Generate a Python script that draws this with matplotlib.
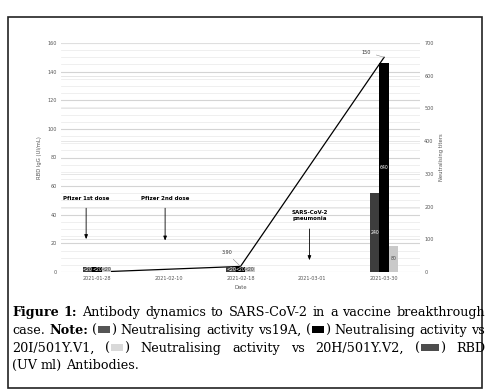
import numpy as np
import matplotlib
matplotlib.use("Agg")
import matplotlib.pyplot as plt
from matplotlib.ticker import MultipleLocator
from matplotlib.patches import Rectangle

# ---------------- data ----------------
dates = ['2021-01-28', '2021-02-10', '2021-02-18', '2021-03-01', '2021-03-30']
rbd_igg = [0.0, np.nan, 3.9, np.nan, 150.0]
rbd_labels = ['', '', '3.90', '', '150']
nt_19a = [15, np.nan, 15, np.nan, 240]
nt_v1 = [15, np.nan, 15, np.nan, 640]
nt_v2 = [15, np.nan, 15, np.nan, 80]
lab_19a = ['<20', '', '<20', '', '240']
lab_v1 = ['<20', '', '<20', '', '640']
lab_v2 = ['<20', '', '<20', '', '80']
events = ['Pfizer 1st dose', 'Pfizer 2nd dose', 'SARS-CoV-2\npneumonia']
event_idx = [0, 1, 3]

W, H = 493, 391
fig = plt.figure(figsize=(W / 100, H / 100), dpi=100)

def fx(px):
    return px / W

def fy(py):
    return 1 - py / H

ax = fig.add_axes([fx(61), fy(272), 359 / W, 229 / H])
ax2 = ax.twinx()

x = np.arange(len(dates))
ax.set_xlim(-0.5, len(dates) - 0.5)
ax.set_ylim(0, 160)
ax2.set_ylim(0, 700)

# grid
ax.yaxis.set_major_locator(MultipleLocator(20))
ax.yaxis.set_minor_locator(MultipleLocator(5))
ax.grid(axis='y', which='major', color='#d4d4d4', lw=0.8)
ax.grid(axis='y', which='minor', color='#ededed', lw=0.6)
ax2.yaxis.set_major_locator(MultipleLocator(100))
ax2.grid(axis='y', color='#e2e2e2', lw=0.6)
ax2.set_axisbelow(True)

for a in (ax, ax2):
    for s in a.spines.values():
        s.set_visible(False)
    a.tick_params(which='both', length=0, labelsize=3.5, labelcolor='#555555', pad=3)

ax.set_xticks(x)
ax.set_xticklabels(dates)
ax.set_xlabel('Date', fontsize=3.8, color='#555555', labelpad=3)
ax.set_ylabel('RBD IgG (UI/mL)', fontsize=3.8, color='#555555', labelpad=4)
ax2.set_ylabel('Neutralising titers', fontsize=3.8, color='#555555', labelpad=4)

# bars
bw = 0.13
colors = ['#3d3d3d', '#000000', '#c9c9c9']
series = [nt_19a, nt_v1, nt_v2]
labs = [lab_19a, lab_v1, lab_v2]
tcol = ['white', 'white', '#444444']
for k, (vals, lb, c, tc) in enumerate(zip(series, labs, colors, tcol)):
    xs = x + (k - 1) * bw
    ax2.bar(xs, vals, width=bw, color=c, zorder=3)
    for xi, v, l in zip(xs, vals, lb):
        if l and not np.isnan(v):
            ax2.text(xi, v / 2, l, ha='center', va='center', fontsize=3.3,
                     color=tc, zorder=4)

# line (drawn in the top axes, using left-axis data coordinates)
L = ax.transData
rv = np.array(rbd_igg)
m = ~np.isnan(rv)
ax2.plot(x[m], rv[m], color='black', lw=0.9, zorder=2.5, transform=L)
ax2.annotate(rbd_labels[2], xy=(x[2], rv[2]), xytext=(x[2] - 0.19, 13.3),
             xycoords=L, textcoords=L,
             fontsize=3.5, color='#333333', ha='center', va='center',
             arrowprops=dict(arrowstyle='-', color='#888888', lw=0.4, shrinkA=1, shrinkB=0))
ax2.annotate(rbd_labels[4], xy=(x[4], rv[4]), xytext=(x[4] - 0.25, 153.7),
             xycoords=L, textcoords=L,
             fontsize=3.5, color='#333333', ha='center', va='center',
             arrowprops=dict(arrowstyle='-', color='#888888', lw=0.4, shrinkA=2, shrinkB=0))

# event annotations
arr = dict(arrowstyle='-|>,head_length=0.25,head_width=0.1', color='black', lw=0.6)
ev_x = [x[event_idx[0]] - 0.15, x[event_idx[1]] - 0.05, x[event_idx[2]] - 0.04]
ev_txt_y = [51.5, 51.5, 39.5]
ev_top = [46.5, 46.5, 32]
ev_bot = [21, 20, 6.3]
for ex, ty, t0, t1, lab in zip(ev_x, ev_txt_y, ev_top, ev_bot, events):
    ax2.annotate('', xy=(ex, t1), xytext=(ex, t0), xycoords=L, textcoords=L,
                 arrowprops=arr, zorder=5)
    ax2.text(ex, ty, lab, fontsize=4, fontweight='bold', ha='center', va='center',
             linespacing=1.1, transform=L, zorder=5)

# border box
fig.add_artist(Rectangle((fx(8), fy(388)), (482 - 8) / W, (388 - 17) / H,
                         transform=fig.transFigure, fill=False, ec='#222222', lw=1.2))

# ---------------- caption ----------------
FS = 9.2
FAM = 'DejaVu Serif'
renderer = fig.canvas.get_renderer()

def T(s, bold=False):
    return ('t', s, 'bold' if bold else 'normal')

def B(c, w=14):
    return ('b', c, w)

def part_width(p):
    if p[0] == 't':
        t = fig.text(0, 0, p[1], fontsize=FS, family=FAM, weight=p[2])
        w = t.get_window_extent(renderer).width
        t.remove()
        return w
    return p[2]

def draw_line(words, base, x0=12, x1=485, justify=True):
    widths = [sum(part_width(p) for p in w) for w in words]
    if justify and len(words) > 1:
        gap = (x1 - x0 - sum(widths)) / (len(words) - 1)
    else:
        gap = part_width(T('x')) * 0.55
    cx = x0
    for w, ww in zip(words, widths):
        px = cx
        for p in w:
            pw = part_width(p)
            if p[0] == 't':
                fig.text(fx(px), fy(base), p[1], fontsize=FS, family=FAM,
                         weight=p[2], ha='left', va='baseline')
            else:
                fig.add_artist(Rectangle((fx(px + 1), fy(base - 1)), (pw - 2) / W, 7.5 / H,
                                         transform=fig.transFigure, color=p[1], lw=0))
            px += pw
        cx += ww + gap

def words_of(s, bold=False):
    return [[T(wd, bold)] for wd in s.split()]

line1 = [[T('Figure', True)], [T('1:', True)]] + words_of(
    'Antibody dynamics to SARS-CoV-2 in a vaccine breakthrough')
line2 = ([[T('case.')], [T('Note:', True)], [T('('), B('#555555'), T(')')]]
         + words_of('Neutralising activity vs19A,')
         + [[T('('), B('#000000'), T(')')]] + words_of('Neutralising activity vs'))
line3 = ([[T('20I/501Y.V1,')], [T('('), B('#d9d9d9'), T(')')]]
         + words_of('Neutralising activity vs 20H/501Y.V2,')
         + [[T('('), B('#4d4d4d', 20), T(')')], [T('RBD')]])
line4 = words_of('(UV ml) Antibodies.')

draw_line(line1, 316)
draw_line(line2, 334)
draw_line(line3, 352)
draw_line(line4, 369, justify=False)

fig.savefig('out.png', dpi=100)
